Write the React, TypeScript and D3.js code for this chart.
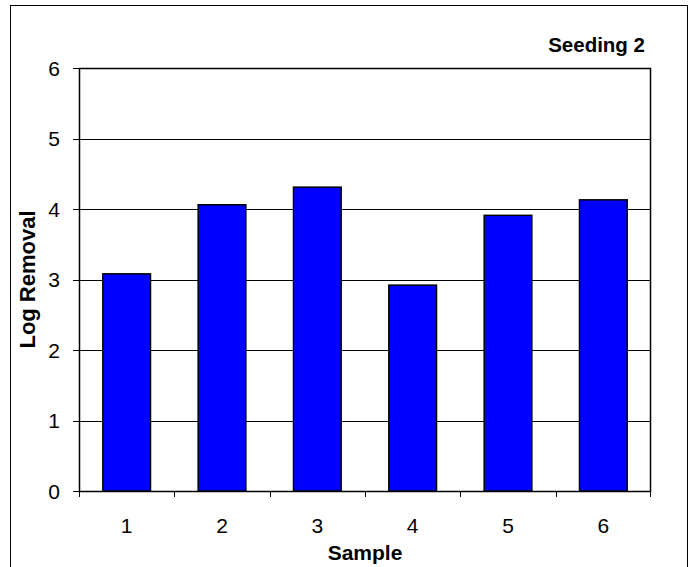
import React from "react";
import * as d3 from "d3";

const categories = ["1", "2", "3", "4", "5", "6"];
const values = [3.08, 4.06, 4.31, 2.92, 3.91, 4.13];
const yTicks = [0, 1, 2, 3, 4, 5, 6];
const title = "Seeding 2";
const xTitle = "Sample";
const yTitle = "Log Removal";

export default function App() {
  const W = 690, H = 567;
  const left = 79, right = 651, top = 68, bottom = 491;
  const x = d3.scaleBand<string>().domain(categories).range([left, right]).paddingInner(0.5).paddingOuter(0.25);
  const xb = d3.scaleBand<string>().domain(categories).range([left, right]);
  const y = d3.scaleLinear().domain([0, 6]).range([bottom, top]);
  const font = "Arial, 'Liberation Sans', sans-serif";
  return (
    <svg width={W} height={H} style={{ position: "absolute", left: 0, top: 0, display: "block" }}>
      <rect x={0} y={0} width={W} height={H} fill="#fff" />
      <rect x={10.5} y={5.5} width={677} height={580} fill="none" stroke="#000" strokeWidth={1} />
      {yTicks.map((t) => (
        <g key={t}>
          <line x1={left - 6} x2={right} y1={Math.round(y(t)) + 0.5} y2={Math.round(y(t)) + 0.5} stroke="#000" strokeWidth={1} />
          <text x={left - 19} y={y(t)} dy="0.36em" textAnchor="end" fontFamily={font} fontSize={21}>{t}</text>
        </g>
      ))}
      <rect x={left + 0.5} y={top + 0.5} width={right - left - 1} height={bottom - top} fill="none" stroke="#000" strokeWidth={1.5} />
      {categories.map((c, i) => (
        <rect key={c} x={x(c)!} y={y(values[i])} width={x.bandwidth()} height={bottom - y(values[i])}
          fill="#0000ff" stroke="#000" strokeWidth={1.5} />
      ))}
      {categories.map((c) => (
        <line key={"t" + c} x1={Math.round(xb(c)!) + 0.5} x2={Math.round(xb(c)!) + 0.5} y1={bottom} y2={bottom + 6} stroke="#000" />
      ))}
      <line x1={right - 0.5} x2={right - 0.5} y1={bottom} y2={bottom + 6} stroke="#000" />
      {categories.map((c) => (
        <text key={"l" + c} x={xb(c)! + xb.bandwidth() / 2} y={525} textAnchor="middle" dy="0.36em" fontFamily={font} fontSize={21}>{c}</text>
      ))}
      <text x={(left + right) / 2} y={552} textAnchor="middle" dy="0.36em" fontFamily={font} fontSize={21} fontWeight="bold">{xTitle}</text>
      <text transform={`translate(27,${(top + bottom) / 2}) rotate(-90)`} textAnchor="middle" dy="0.36em" fontFamily={font} fontSize={22} fontWeight="bold">{yTitle}</text>
      <text x={645} y={45} textAnchor="end" dy="0.36em" fontFamily={font} fontSize={20.5} fontWeight="bold">{title}</text>
    </svg>
  );
}
